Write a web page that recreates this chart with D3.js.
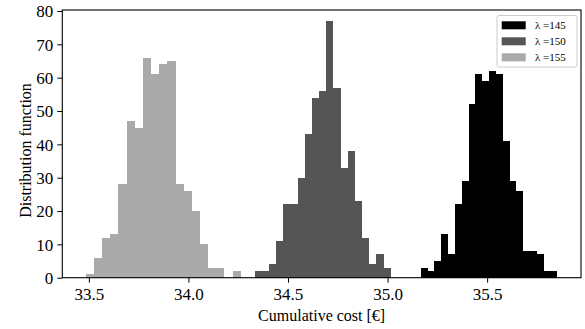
<!DOCTYPE html>
<html>
<head>
<meta charset="utf-8">
<script src="https://cdn.jsdelivr.net/npm/d3@7"></script>
<style>
  body { margin: 0; background: #fff; }
  text { font-family: "Liberation Serif", "Times New Roman", serif; fill: #000; }
</style>
</head>
<body>
<svg id="plot" width="585" height="329"></svg>
<script>
// histogram counts, one array per lambda
var labels = ['\u03bb =145', '\u03bb =150', '\u03bb =155'];
var counts145 = [3, 2, 5, 13, 7, 22, 29, 52, 61, 59, 62, 61, 41, 29, 26, 8, 8, 7, 2, 2];
var counts150 = [2, 2, 4, 11, 22, 22, 30, 43, 54, 56, 77, 57, 33, 38, 23, 12, 4, 7, 3];
var counts155 = [1, 6, 12, 13, 28, 47, 45, 66, 61, 64, 65, 28, 26, 20, 10, 3, 3, 0, 2];
// cost range covered by the bins of each histogram
var range145 = [35.167, 35.853];
var range150 = [34.333, 35.016];
var range155 = [33.485, 34.263];
var xTicks = [33.5, 34.0, 34.5, 35.0, 35.5];
var yTicks = [0, 10, 20, 30, 40, 50, 60, 70, 80];

var series = [
  {label: labels[0], counts: counts145, range: range145, color: '#000000'},
  {label: labels[1], counts: counts150, range: range150, color: '#555555'},
  {label: labels[2], counts: counts155, range: range155, color: '#aaaaaa'}
];

//Set SVG proportions
var svg = d3.select('#plot'),
margin = {top: 10, right: 4, bottom: 51.3, left: 62.3},
width = +svg.attr("width") - margin.left - margin.right,
height = +svg.attr("height") - margin.top - margin.bottom;
var g = svg.append("g")
  .attr("transform", "translate(" + margin.left + "," + margin.top + ")");

//x domain padded by 5% like matplotlib autoscale
var lo = d3.min(series, function(s) { return s.range[0]; }),
    hi = d3.max(series, function(s) { return s.range[1]; }),
    pad = 0.05 * (hi - lo);
var x = d3.scaleLinear().domain([lo - pad, hi + pad]).range([0, width]),
    y = d3.scaleLinear().domain([0, 80.3]).range([height, 0]);

//bins for each series
series.forEach(function(s) {
  var step = (s.range[1] - s.range[0]) / s.counts.length;
  s.bins = s.counts.map(function(c, i) {
    return {x0: s.range[0] + i * step, x1: s.range[0] + (i + 1) * step, n: c};
  });
});

//bars
g.selectAll('.hist')
  .data(series)
  .enter()
  .append('g')
  .attr('class', 'hist')
  .style('fill', function(s) { return s.color; })
  .selectAll('rect')
  .data(function(s) { return s.bins; })
  .enter()
  .append('rect')
  .attr('x', function(d) { return x(d.x0); })
  .attr('width', function(d) { return x(d.x1) - x(d.x0); })
  .attr('y', function(d) { return y(d.n); })
  .attr('height', function(d) { return y(0) - y(d.n); })
  .attr('shape-rendering', 'crispEdges');

// x axis
var xAxis = g.append("g")
  .attr('transform', 'translate(0,' + height + ')')
  .call(d3.axisBottom(x).tickValues(xTicks).tickFormat(d3.format('.1f')).tickSize(5).tickSizeOuter(0));
xAxis.select('.domain').remove();
xAxis.selectAll('text')
  .attr('y', 22)
  .attr('dy', 0)
  .style('font-size', '17px');

// y axis
var yAxis = g.append("g")
  .call(d3.axisLeft(y).tickValues(yTicks).tickSize(5).tickPadding(4).tickSizeOuter(0));
yAxis.select('.domain').remove();
yAxis.selectAll('text')
  .attr('dy', '0.34em')
  .style('font-size', '17px');
g.selectAll('.tick line').style('stroke', '#000');

//frame
g.append('rect')
  .attr('width', width)
  .attr('height', height)
  .style('fill', 'none')
  .style('stroke', '#000')
  .style('stroke-width', 1.1);

//axis titles
svg.append('text')
  .attr('x', margin.left + width / 2)
  .attr('y', 321)
  .attr('text-anchor', 'middle')
  .style('font-size', '16px')
  .text('Cumulative cost [\u20ac]');
svg.append('text')
  .attr('transform', 'translate(31,150.5) rotate(-90)')
  .attr('text-anchor', 'middle')
  .style('font-size', '16px')
  .text('Distribution function');

//legend
var legend = svg.append('g')
  .attr('transform', 'translate(497,15.5)');
legend.append('rect')
  .attr('width', 80)
  .attr('height', 51.5)
  .attr('rx', 2)
  .style('fill', '#fff')
  .style('fill-opacity', 0.8)
  .style('stroke', '#cccccc')
  .style('stroke-width', 1);
var item = legend.selectAll('.item')
  .data(series)
  .enter()
  .append('g')
  .attr('class', 'item')
  .attr('transform', function(d, i) { return 'translate(0,' + (9.8 + i * 16) + ')'; });
item.append('rect')
  .attr('x', 4.7)
  .attr('y', -4)
  .attr('width', 24)
  .attr('height', 8)
  .style('fill', function(d) { return d.color; });
item.append('text')
  .attr('x', 38)
  .attr('y', 3.6)
  .style('font-size', '11px')
  .text(function(d) { return d.label; });
</script>
</body>
</html>
